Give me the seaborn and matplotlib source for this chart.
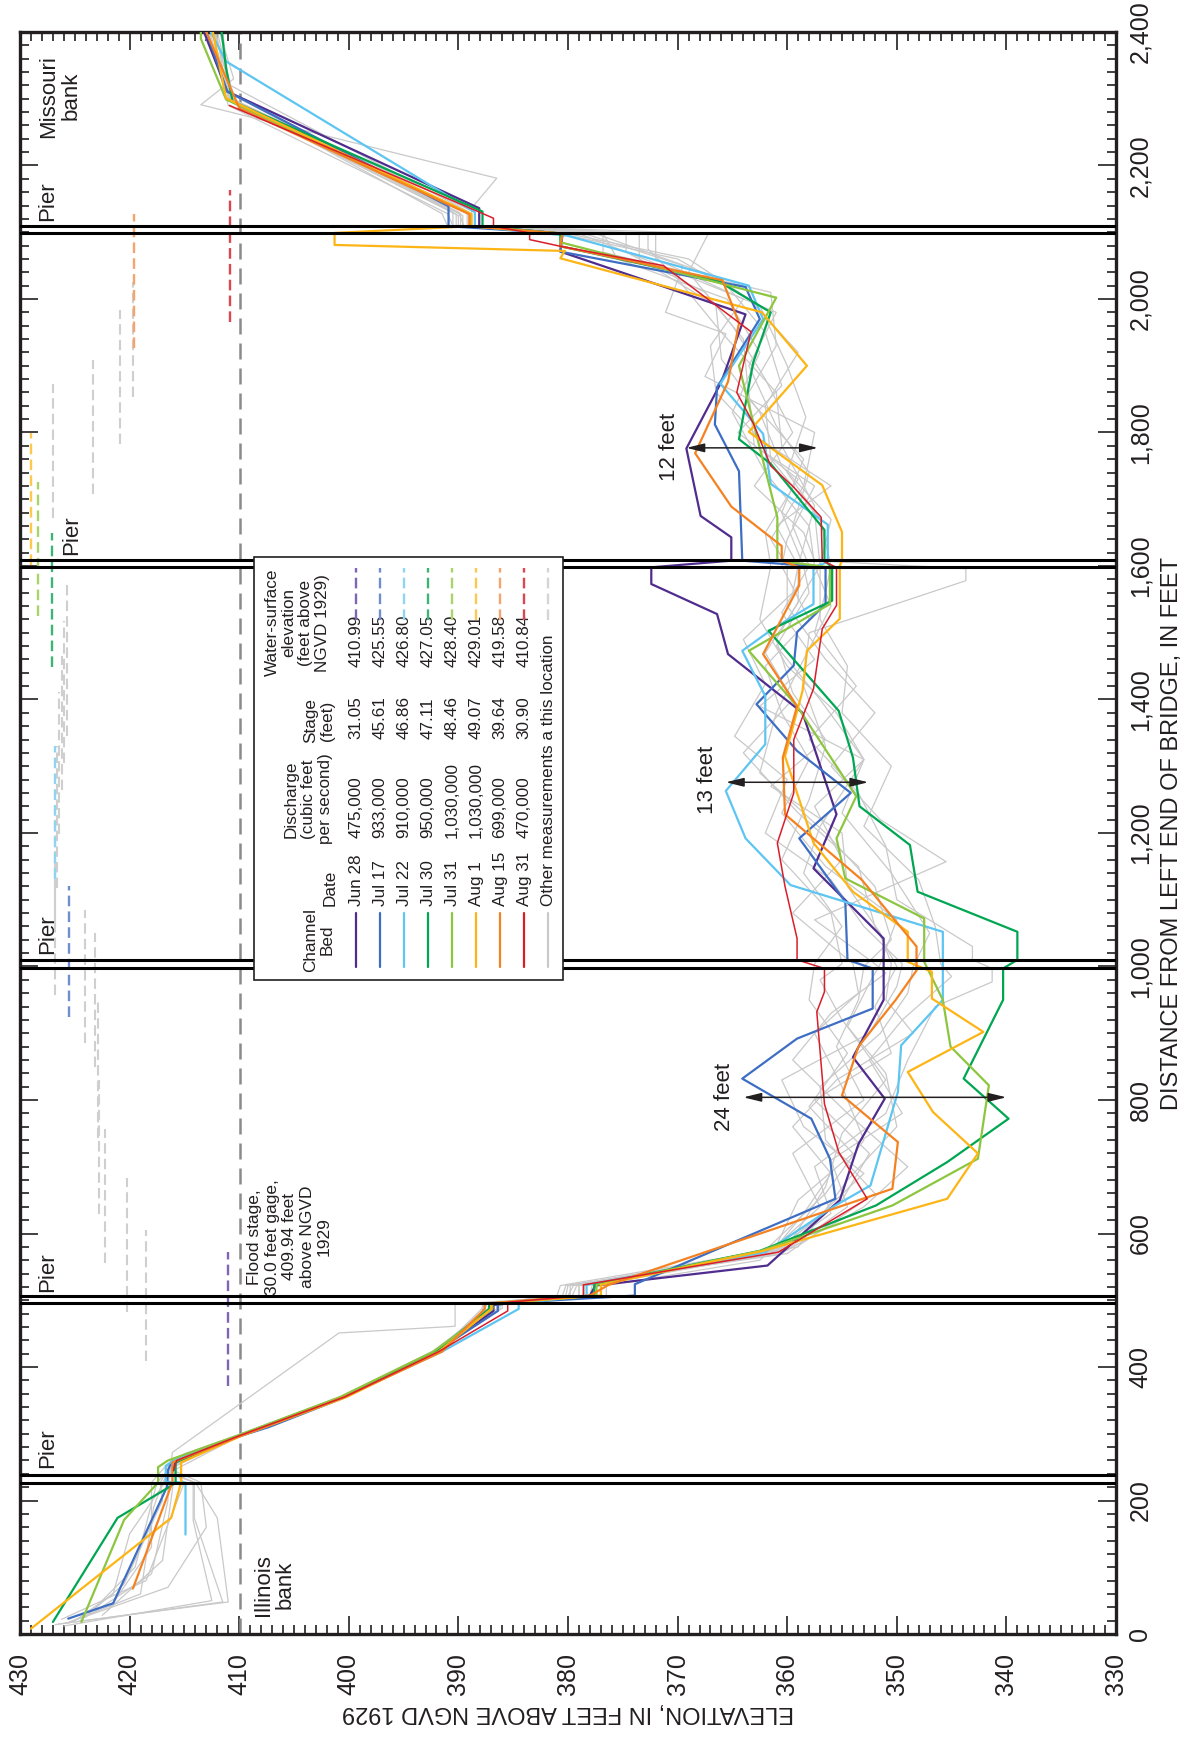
import numpy as np
import pandas as pd
import matplotlib
matplotlib.use("Agg")
import matplotlib.pyplot as plt
from matplotlib.patches import Rectangle
import seaborn as sns

# ---------------------------------------------------------------------------
# Channel-bed profiles, (distance from left end of bridge [ft], bed elevation [ft])
# ---------------------------------------------------------------------------
jun28_bed = [(245, 416.0), (260, 415.8), (297, 410.0), (313, 407.2), (355, 400.6), (423, 392.0),
             (484, 386.8), (493, 386.8), (507, 378.0), (522, 377.5), (552, 361.8), (650, 355.2),
             (734, 353.5), (802, 351.1), (864, 354.0), (950, 351.2), (1004, 351.2), (1042, 351.2),
             (1147, 357.6), (1228, 355.5), (1380, 358.6), (1468, 365.4), (1528, 366.4), (1573, 372.4),
             (1598, 372.4), (1608, 365.1), (1643, 365.1), (1675, 367.9), (1776, 369.2), (1876, 366.0),
             (1977, 363.8), (2071, 380.7), (2098, 380.5), (2109, 388.1), (2136, 388.1), (2311, 411.1),
             (2400, 413.2)]
jul17_bed = [(23, 425.6), (46, 421.5), (220, 416.6), (245, 416.5), (257, 416.2), (295, 410.2),
             (310, 407.3), (353, 400.6), (423, 392.1), (484, 386.4), (495, 386.4), (507, 373.9),
             (524, 373.9), (652, 355.6), (712, 356.1), (772, 357.8), (832, 364.1), (892, 359.1),
             (937, 352.2), (997, 352.2), (1010, 354.5), (1097, 354.7), (1192, 358.9), (1260, 354.2),
             (1323, 359.1), (1393, 362.8), (1451, 359.4), (1501, 359.1), (1543, 356.5), (1598, 356.5),
             (1608, 364.1), (1742, 364.4), (1812, 366.6), (1868, 366.4), (1970, 362.5), (2018, 363.8),
             (2071, 380.7), (2098, 380.5), (2109, 390.9), (2139, 390.9), (2311, 411.1), (2400, 413.0)]
jul22_bed = [(149, 414.9), (227, 414.9), (228, 416.7), (252, 416.7), (260, 416.0), (297, 410.0),
             (355, 400.5), (423, 391.5), (487, 384.5), (495, 384.5), (507, 378.3), (523, 378.3),
             (572, 362.0), (642, 355.6), (672, 352.4), (812, 349.9), (882, 349.6), (950, 345.8),
             (1052, 345.8), (1122, 359.7), (1192, 363.8), (1263, 365.6), (1333, 362.0), (1405, 362.0),
             (1473, 364.1), (1506, 361.3), (1543, 357.6), (1598, 357.6), (1606, 356.3), (1662, 356.3),
             (1723, 361.5), (1798, 362.2), (1873, 366.1), (1970, 362.2), (2020, 363.5), (2095, 380.1),
             (2109, 388.5), (2130, 388.5), (2356, 411.2), (2400, 412.6)]
jul30_bed = [(18, 427.0), (174, 421.1), (220, 416.4), (227, 415.8), (257, 415.8), (297, 410.0),
             (355, 400.6), (423, 392.1), (487, 387.2), (495, 387.2), (507, 377.6), (523, 377.6),
             (574, 362.5), (642, 351.9), (707, 345.4), (772, 339.8), (832, 343.9), (950, 340.3),
             (997, 340.3), (1010, 339.0), (1052, 339.0), (1112, 348.1), (1182, 348.8), (1240, 353.4),
             (1313, 354.0), (1383, 355.3), (1503, 361.7), (1548, 355.9), (1598, 355.9), (1608, 356.6),
             (1654, 356.6), (1753, 361.5), (1790, 364.4), (1905, 363.1), (1980, 361.5), (2028, 366.4),
             (2079, 380.7), (2098, 380.7), (2109, 387.8), (2131, 387.8), (2296, 410.6), (2346, 411.2),
             (2400, 411.6)]
jul31_bed = [(18, 424.4), (171, 420.5), (227, 417.4), (250, 417.4), (260, 416.5), (297, 410.2),
             (355, 400.8), (423, 392.3), (487, 386.9), (495, 386.9), (507, 377.4), (523, 377.4),
             (574, 362.4), (642, 350.4), (712, 342.6), (822, 341.6), (880, 345.1), (950, 345.8),
             (1007, 347.5), (1072, 347.5), (1132, 354.7), (1192, 355.5), (1255, 353.7), (1390, 359.1),
             (1473, 363.5), (1543, 356.1), (1598, 356.1), (1608, 360.9), (1673, 360.9), (1900, 364.4),
             (2002, 361.0), (2085, 380.7), (2098, 380.5), (2109, 388.9), (2127, 388.9), (2299, 411.2),
             (2390, 413.5), (2400, 413.5)]
aug01_bed = [(8, 429.0), (174, 416.2), (227, 415.3), (257, 415.3), (297, 409.8), (355, 400.2),
             (423, 391.8), (487, 387.0), (495, 387.0), (507, 377.0), (523, 377.0), (574, 362.2),
             (652, 345.4), (720, 342.6), (782, 346.7), (842, 349.0), (902, 342.1), (952, 346.8),
             (992, 346.8), (1007, 349.0), (1052, 349.0), (1112, 354.0), (1185, 357.6), (1315, 360.2),
             (1413, 358.6), (1473, 358.2), (1521, 355.2), (1600, 355.2), (1608, 355.0), (1651, 355.0),
             (1721, 356.8), (1801, 363.5), (1900, 358.2), (1980, 362.3), (2061, 380.7), (2072, 380.3),
             (2081, 401.3), (2099, 401.3), (2109, 388.8), (2127, 388.8), (2301, 411.2), (2400, 412.4)]
aug15_bed = [(68, 419.7), (227, 416.1), (257, 416.1), (297, 409.8), (355, 400.4), (423, 391.5),
             (487, 387.6), (495, 387.6), (507, 378.0), (523, 376.3), (667, 350.4), (737, 349.9),
             (807, 355.0), (880, 353.5), (950, 350.1), (994, 348.2), (1030, 348.2), (1130, 353.2),
             (1228, 360.2), (1313, 360.4), (1390, 359.1), (1468, 362.2), (1571, 358.9), (1598, 358.9),
             (1608, 360.5), (1630, 360.5), (1689, 365.1), (1769, 368.4), (1876, 365.4), (1964, 364.4),
             (2028, 365.9), (2079, 380.7), (2098, 380.5), (2109, 389.0), (2127, 389.0), (2286, 410.0),
             (2400, 413.0)]
aug31_bed = [(245, 416.0), (260, 415.7), (297, 410.0), (355, 400.4), (423, 391.8), (484, 385.5),
             (497, 385.5), (507, 378.6), (523, 378.6), (572, 360.8), (652, 352.7), (722, 355.3),
             (794, 356.6), (932, 357.3), (962, 356.6), (997, 356.6), (1010, 359.1), (1042, 359.1),
             (1120, 360.2), (1185, 360.9), (1260, 359.4), (1340, 359.4), (1416, 357.6), (1506, 356.8),
             (1541, 355.5), (1598, 355.5), (1608, 356.8), (1673, 356.9), (1718, 359.4), (1750, 361.5),
             (1814, 363.1), (1860, 364.6), (1951, 363.3), (2050, 371.3), (2079, 380.7), (2089, 383.5),
             (2099, 383.5), (2109, 386.8), (2121, 386.8), (2131, 388.2), (2290, 410.9)]

# other bed measurements at this location
other_bed_a = [(15, 426.5), (48, 411.0), (174, 412.0), (227, 414.0), (240, 416.2), (262, 415.8), (297, 410.1),
               (355, 400.8), (423, 392.4), (480, 387.8), (495, 387.8), (507, 376.5), (522, 376.5), (560, 362.5),
               (640, 357.0), (720, 359.5), (800, 353.0), (880, 355.5), (950, 353.5), (1000, 353.0), (1040, 350.5),
               (1120, 352.0), (1200, 356.5), (1290, 362.5), (1380, 361.0), (1460, 358.5), (1540, 356.0),
               (1600, 357.5), (1660, 358.0), (1740, 362.0), (1830, 365.0), (1920, 362.5), (2000, 365.5),
               (2060, 375.5), (2098, 376.8), (2110, 389.5), (2130, 390.0), (2300, 410.6), (2400, 412.2)]
other_bed_b = [(12, 426.0), (50, 412.5), (170, 414.2), (227, 414.2), (245, 416.4), (265, 415.6), (300, 409.6),
               (355, 400.2), (425, 391.7), (485, 388.0), (495, 387.5), (507, 380.2), (522, 380.0), (570, 360.0),
               (660, 352.0), (740, 356.5), (820, 357.0), (900, 351.5), (960, 349.0), (1000, 348.5), (1050, 347.0),
               (1140, 350.5), (1230, 355.0), (1310, 353.0), (1400, 357.0), (1480, 361.0), (1560, 358.0),
               (1600, 358.5), (1680, 360.5), (1760, 358.5), (1850, 363.5), (1940, 364.0), (2010, 367.5),
               (2070, 374.7), (2098, 374.7), (2110, 390.5), (2128, 391.0), (2290, 411.0), (2400, 412.8)]
other_bed_c = [(20, 425.0), (60, 421.5), (150, 420.0), (227, 416.8), (250, 416.6), (270, 415.0), (300, 409.8),
               (358, 400.3), (425, 391.9), (487, 386.5), (495, 386.5), (507, 379.0), (522, 379.0), (575, 361.0),
               (650, 355.0), (720, 352.5), (800, 357.5), (870, 350.5), (940, 352.0), (1000, 350.0), (1060, 352.0),
               (1150, 353.5), (1230, 359.0), (1320, 364.0), (1400, 359.5), (1470, 362.0), (1545, 359.0),
               (1600, 359.0), (1690, 357.5), (1780, 360.5), (1860, 361.0), (1950, 366.0), (2030, 370.0),
               (2075, 372.7), (2098, 372.7), (2110, 388.8), (2136, 388.8), (2181, 386.5), (2291, 413.5),
               (2330, 410.5), (2400, 411.8)]
other_bed_d = [(25, 424.0), (100, 419.5), (227, 417.5), (255, 416.0), (298, 410.0), (356, 400.5), (424, 392.0),
               (488, 387.0), (496, 386.8), (507, 380.0), (522, 379.5), (580, 359.0), (680, 354.5), (760, 350.0),
               (840, 351.0), (920, 355.0), (980, 357.0), (1004, 355.0), (1080, 356.0), (1160, 360.5),
               (1250, 358.0), (1330, 356.5), (1420, 358.5), (1500, 358.0), (1578, 343.7), (1596, 343.7),
               (1608, 357.5), (1650, 358.5), (1720, 363.0), (1800, 359.5), (1880, 362.0), (1960, 365.0),
               (2040, 369.0), (2098, 367.2), (2110, 389.0), (2130, 389.0), (2320, 410.8), (2400, 412.0)]
other_bed_e = [(30, 423.5), (90, 418.0), (200, 416.5), (227, 416.5), (240, 416.3), (272, 416.1), (451, 400.9),
               (461, 390.3), (494, 390.3), (507, 378.5), (522, 378.5), (575, 360.0), (640, 353.0), (700, 349.0),
               (780, 354.5), (860, 359.5), (930, 356.0), (990, 351.0), (1004, 352.0), (1070, 357.5),
               (1157, 345.5), (1220, 351.5), (1300, 356.0), (1380, 352.0), (1460, 356.5), (1540, 360.0),
               (1600, 360.0), (1640, 361.5), (1720, 358.5), (1800, 357.5), (1884, 367.5), (1948, 365.6),
               (1980, 371.1), (2050, 369.5), (2098, 378.5), (2110, 389.8), (2128, 389.8), (2310, 410.9),
               (2400, 412.5)]
other_bed_f = [(18, 425.5), (60, 419.0), (190, 417.8), (227, 417.0), (250, 416.0), (296, 410.2), (354, 400.7),
               (422, 392.3), (486, 387.3), (496, 387.0), (507, 378.0), (522, 377.8), (572, 361.0), (630, 356.0),
               (700, 357.5), (780, 351.0), (860, 349.0), (940, 346.5), (977, 341.3), (997, 341.3), (1010, 343.1),
               (1030, 343.1), (1100, 350.0), (1180, 351.0), (1260, 353.5), (1340, 358.0), (1420, 353.7),
               (1500, 357.5), (1560, 356.5), (1600, 356.0), (1670, 357.0), (1740, 360.0), (1823, 358.3),
               (1900, 360.0), (1990, 362.5), (2060, 370.0), (2098, 380.7), (2110, 390.0), (2125, 390.0),
               (2295, 410.7), (2400, 413.0)]
other_bed_g = [(22, 426.2), (80, 418.5), (227, 415.0), (247, 416.3), (263, 415.9), (299, 409.9), (357, 400.4),
               (423, 392.2), (486, 387.6), (495, 387.4), (507, 379.6), (522, 379.2), (568, 361.5), (620, 357.5),
               (690, 353.0), (760, 358.5), (830, 360.5), (900, 352.5), (970, 350.0), (1004, 349.5), (1060, 353.0),
               (1130, 356.0), (1200, 362.0), (1280, 360.0), (1345, 364.8), (1423, 362.0), (1490, 364.0),
               (1560, 359.5), (1600, 359.0), (1660, 361.0), (1720, 356.0), (1790, 362.5), (1860, 366.5),
               (1930, 367.0), (2000, 364.0), (2060, 372.0), (2098, 372.0), (2110, 389.2), (2130, 389.2),
               (2300, 410.8), (2400, 411.5)]
other_bed_h = [(28, 422.5), (110, 417.0), (227, 416.0), (250, 416.2), (298, 410.1), (356, 400.6), (424, 392.0),
               (487, 386.2), (495, 386.2), (507, 379.8), (522, 379.8), (575, 361.2), (650, 359.0), (720, 354.0),
               (790, 358.0), (870, 354.5), (950, 358.0), (1004, 357.5), (1060, 355.0), (1140, 358.5),
               (1210, 357.0), (1310, 353.0), (1380, 355.5), (1450, 360.0), (1520, 362.5), (1600, 361.5),
               (1650, 362.0), (1730, 359.0), (1800, 364.5), (1870, 360.5), (1950, 362.0), (2030, 366.0),
               (2098, 377.5), (2110, 390.5), (2130, 390.5), (2305, 410.5), (2400, 412.3)]
other_bed_i = [(16, 425.8), (70, 416.5), (160, 413.0), (227, 413.5), (245, 416.0), (297, 409.9), (355, 400.3),
               (424, 391.6), (485, 387.7), (495, 387.5), (507, 380.5), (522, 380.2), (570, 360.5), (640, 354.5),
               (710, 356.0), (780, 349.5), (860, 352.5), (920, 349.5), (985, 345.0), (1004, 346.0), (1060, 346.5),
               (1130, 348.0), (1210, 353.0), (1300, 350.5), (1380, 355.0), (1450, 354.5), (1520, 357.0),
               (1600, 357.0), (1680, 357.5), (1760, 361.5), (1840, 362.0), (1920, 359.0), (2000, 363.5),
               (2060, 369.0), (2098, 380.0), (2110, 391.0), (2128, 391.5), (2300, 410.6), (2400, 412.9)]
other_bed_j = [(35, 422.0), (130, 418.0), (227, 418.0), (250, 416.8), (300, 409.8), (356, 400.5), (423, 392.0),
               (488, 386.0), (497, 386.0), (507, 379.0), (522, 379.0), (575, 362.0), (660, 356.5), (740, 353.0),
               (820, 355.0), (900, 357.5), (960, 353.5), (1004, 354.0), (1080, 359.5), (1160, 355.0),
               (1240, 357.5), (1310, 353.0), (1390, 362.5), (1460, 357.5), (1530, 360.5), (1600, 358.0),
               (1660, 359.5), (1740, 358.0), (1810, 361.0), (1900, 363.5), (1980, 361.0), (2050, 371.5),
               (2098, 379.0), (2110, 389.6), (2125, 389.6), (2300, 410.9), (2400, 412.7)]
other_bed_k = [(14, 426.8), (48, 411.5), (174, 414.1), (227, 414.1), (242, 416.5), (262, 415.7), (298, 409.9),
               (356, 400.6), (424, 392.1), (487, 387.3), (495, 387.1), (507, 381.0), (522, 380.7), (580, 360.0),
               (670, 356.5), (750, 355.0), (830, 351.0), (910, 354.5), (975, 352.5), (1004, 351.5), (1070, 350.0),
               (1150, 356.5), (1230, 360.5), (1310, 358.0), (1380, 360.5), (1450, 362.0), (1520, 358.0),
               (1600, 360.5), (1640, 360.0), (1720, 357.5), (1780, 363.0), (1860, 363.5), (1930, 361.0),
               (2010, 361.5), (2070, 376.8), (2098, 376.8), (2110, 390.2), (2127, 390.2), (2300, 411.0),
               (2400, 412.1)]
other_bed_l = [(20, 424.5), (75, 420.5), (200, 417.0), (227, 417.2), (250, 416.4), (299, 409.7), (357, 400.2),
               (424, 391.5), (486, 386.9), (495, 386.9), (507, 377.9), (522, 377.5), (570, 361.5), (630, 358.5),
               (690, 356.0), (760, 359.5), (830, 355.5), (900, 348.5), (950, 351.0), (1004, 350.5), (1050, 351.5),
               (1120, 354.5), (1200, 355.0), (1270, 361.5), (1340, 356.5), (1410, 359.5), (1490, 361.0),
               (1560, 358.5), (1600, 357.0), (1670, 356.0), (1750, 360.5), (1830, 362.5), (1910, 366.0),
               (1990, 366.5), (2060, 373.5), (2098, 373.5), (2110, 388.5), (2130, 388.5), (2300, 410.7),
               (2400, 413.3)]

# measurement table
survey_dates = ["Jun 28", "Jul 17", "Jul 22", "Jul 30", "Jul 31", "Aug 1", "Aug 15", "Aug 31"]
discharge_cfs = ["475,000", "933,000", "910,000", "950,000", "1,030,000", "1,030,000", "699,000", "470,000"]
stage_ft = ["31.05", "45.61", "46.86", "47.11", "48.46", "49.07", "39.64", "30.90"]
water_surface_ft = [410.99, 425.55, 426.80, 427.05, 428.40, 429.01, 419.58, 410.84]
water_surface_reach = [(371, 572), (924, 1120), (1131, 1331), (1449, 1649),
                       (1525, 1726), (1601, 1799), (1926, 2127), (1966, 2163)]

# water-surface elevations of the other measurements, with the reach each covers
other_water_surface_ft = [420.9, 419.7, 423.3, 427.0, 425.7, 426.0, 426.2, 426.4, 426.6, 426.8,
                          426.8, 424.1, 423.2, 422.9, 422.8, 422.2, 420.2, 418.5]
other_water_surface_reach = [(1783, 1984), (1853, 2026), (1708, 1909), (1672, 1873), (1345, 1578),
                             (1305, 1518), (1264, 1465), (1198, 1411), (1117, 1331), (1064, 1238),
                             (957, 1157), (886, 1084), (850, 1050), (743, 950), (629, 830), (556, 756),
                             (482, 683), (409, 605)]

flood_stage_ft = 409.94
pier_faces_ft = [226, 238, 496, 507, 998, 1010, 1598, 1609, 2099, 2110]

bed_profiles = [jun28_bed, jul17_bed, jul22_bed, jul30_bed, jul31_bed, aug01_bed, aug15_bed, aug31_bed]
other_profiles = [other_bed_a, other_bed_b, other_bed_c, other_bed_d, other_bed_e, other_bed_f,
                  other_bed_g, other_bed_h, other_bed_i, other_bed_j, other_bed_k, other_bed_l]

# ---------------------------------------------------------------------------
# styling
# ---------------------------------------------------------------------------
bed_colors = ["#4F2C8E", "#3D6EC4", "#5DC5F1", "#00A651", "#8CC63F", "#FDB515", "#F58220", "#D91E2A"]
wse_colors = ["#8064B6", "#6D8FD2", "#8ED4F3", "#3DB474", "#A9D46C", "#FCC850", "#F4A46C", "#DC4652"]
other_color = "#C9C9C9"
ink = "#231F20"

sns.set_theme(style="ticks")
plt.rcParams["font.family"] = ["Liberation Sans", "DejaVu Sans"]

fig = plt.figure(figsize=(11.95, 17.38), dpi=100)
ax = fig.add_axes([20 / 1195, 104 / 1738, 1096 / 1195, 1602 / 1738])


def profile_frame(names, profiles):
    parts = []
    for name, pts in zip(names, profiles):
        part = pd.DataFrame(pts, columns=["distance", "elevation"])
        part["survey"] = name
        parts.append(part)
    return pd.concat(parts, ignore_index=True)


others = profile_frame([f"other {i}" for i in range(len(other_profiles))], other_profiles)
sns.lineplot(data=others, x="elevation", y="distance", units="survey", estimator=None, sort=False,
             color=other_color, lw=0.9, ax=ax, zorder=2, legend=False)

beds = profile_frame(survey_dates, bed_profiles)
for name, color in zip(survey_dates, bed_colors):
    sns.lineplot(data=beds[beds["survey"] == name], x="elevation", y="distance", estimator=None,
                 sort=False, color=color, lw=1.1 if name == "Aug 31" else 1.6, ax=ax, zorder=3,
                 legend=False)

# water-surface elevations
for elev, (d0, d1) in zip(other_water_surface_ft, other_water_surface_reach):
    ax.plot([elev, elev], [d0, d1], color="#CFCFCF", lw=1.5, dashes=(5, 2.5), zorder=2)
for elev, (d0, d1), color in zip(water_surface_ft, water_surface_reach, wse_colors):
    ax.plot([elev, elev], [d0, d1], color=color, lw=1.7, dashes=(4.5, 2.2), zorder=3)

# flood stage
ax.axvline(flood_stage_ft, color="#8A8A8A", lw=1.8, dashes=(6.4, 3.6), zorder=1)

# piers
for d in pier_faces_ft:
    ax.axhline(d, color="black", lw=2.2, zorder=4)

# scour arrows
arrow = dict(arrowstyle="<|-|>,head_length=0.9,head_width=0.22", color=ink, lw=1.1,
             shrinkA=0, shrinkB=0)
for (e0, e1, d), label, (tx, ty) in [((369.2, 357.2, 1777), "12 feet", (370.7, 1779)),
                                     ((365.6, 352.6, 1276), "13 feet", (367.3, 1280)),
                                     ((364.0, 340.0, 804), "24 feet", (365.7, 804))]:
    ax.annotate("", xy=(e1, d), xytext=(e0, d), arrowprops=arrow, zorder=6)
    ax.text(tx, ty, label, rotation=90, ha="center", va="center", fontsize=16, color=ink, zorder=6)

# location labels
label_kw = dict(rotation=90, ha="center", va="center", fontsize=16, color=ink,
                multialignment="center", linespacing=1.05, zorder=6)
ax.text(426.35, 2304, "Missouri\nbank", **label_kw)
ax.text(406.8, 73, "Illinois\nbank", **label_kw)
for e, d in [(427.5, 2147), (425.3, 1646), (427.5, 1048), (427.5, 542), (427.5, 278)]:
    ax.text(e, d, "Pier", **label_kw)
ax.text(405.4, 595, "Flood stage,\n30.0 feet gage,\n409.94 feet\nabove NGVD\n1929", rotation=90,
        ha="center", va="center", fontsize=12.5, color=ink, multialignment="center",
        linespacing=1.2, zorder=6)

# legend table
ax.add_patch(Rectangle((380.46, 980), 28.19, 633.5, facecolor="white", edgecolor=ink, lw=1.2,
                       zorder=7))
leg_kw = dict(rotation=90, fontsize=12.3, color=ink, zorder=8)
ax.text(402.7, 1040, "Channel\nBed", ha="center", va="center", multialignment="center",
        linespacing=1.15, **leg_kw)
ax.text(401.7, 1091, "Date", ha="center", va="bottom", **leg_kw)
ax.text(403.7, 1251, "Discharge\n(cubic feet\nper second)", ha="center", va="center",
        multialignment="center", linespacing=1.15, **leg_kw)
ax.text(402.7, 1368, "Stage\n(feet)", ha="center", va="center", multialignment="center",
        linespacing=1.15, **leg_kw)
ax.text(404.7, 1515, "Water-surface\nelevation\n(feet above\nNGVD 1929)", ha="center", va="center",
        multialignment="center", linespacing=1.15, **leg_kw)

row_x = 399.34
row_step = 2.19
for i, (date, q, stg, wse) in enumerate(zip(survey_dates, discharge_cfs, stage_ft, water_surface_ft)):
    x = row_x - i * row_step
    ax.plot([x, x], [999, 1080], color=bed_colors[i], lw=1.6, zorder=8)
    ax.text(x, 1091, date, ha="center", va="bottom", **leg_kw)
    ax.text(x, 1193, q, ha="center", va="bottom", **leg_kw)
    ax.text(x, 1341, stg, ha="center", va="bottom", **leg_kw)
    ax.text(x, 1449, f"{wse:.2f}", ha="center", va="bottom", **leg_kw)
    ax.plot([x, x], [1519, 1597], color=wse_colors[i], lw=1.7, dashes=(4.5, 2.2), zorder=8)
x = row_x - 8 * row_step
ax.plot([x, x], [999, 1080], color=other_color, lw=1.6, zorder=8)
ax.text(x, 1091, "Other measurements a this location", ha="center", va="bottom", **leg_kw)
ax.plot([x, x], [1519, 1597], color="#D5D5D5", lw=1.7, dashes=(4.5, 2.2), zorder=8)

# axes
ax.set_xlim(430, 330)
ax.set_ylim(0, 2400)
ax.set_xticks(np.arange(330, 431, 10))
ax.set_xticks(np.arange(330, 431, 1), minor=True)
ax.set_yticks(np.arange(0, 2401, 200))
ax.set_yticks(np.arange(0, 2401, 20), minor=True)
ax.set_yticklabels([f"{v:,}" for v in range(0, 2401, 200)])
ax.yaxis.tick_right()
ax.tick_params(which="both", direction="in", top=True, bottom=True, left=True, right=True,
               labelleft=False, labelright=True, color=ink, width=1.2)
ax.tick_params(which="major", length=13)
ax.tick_params(which="minor", length=6.5)
ax.tick_params(axis="x", which="major", labelrotation=90, pad=14, labelsize=18, labelcolor=ink)
ax.tick_params(axis="y", which="major", labelrotation=90, pad=9, labelsize=18, labelcolor=ink)
for lab in ax.get_yticklabels():
    lab.set_verticalalignment("center")

ax.set_xlabel("ELEVATION, IN FEET ABOVE NGVD 1929", rotation=180, fontsize=17, color=ink,
              labelpad=4)
ax.yaxis.set_label_position("right")
ax.set_ylabel("DISTANCE FROM LEFT END OF BRIDGE, IN FEET", rotation=90, fontsize=17, color=ink,
              labelpad=6)
for side in ax.spines.values():
    side.set_linewidth(2.4)
    side.set_color(ink)
ax.set_facecolor("white")
fig.patch.set_facecolor("white")

fig.savefig("out.png", dpi=100, facecolor="white")
